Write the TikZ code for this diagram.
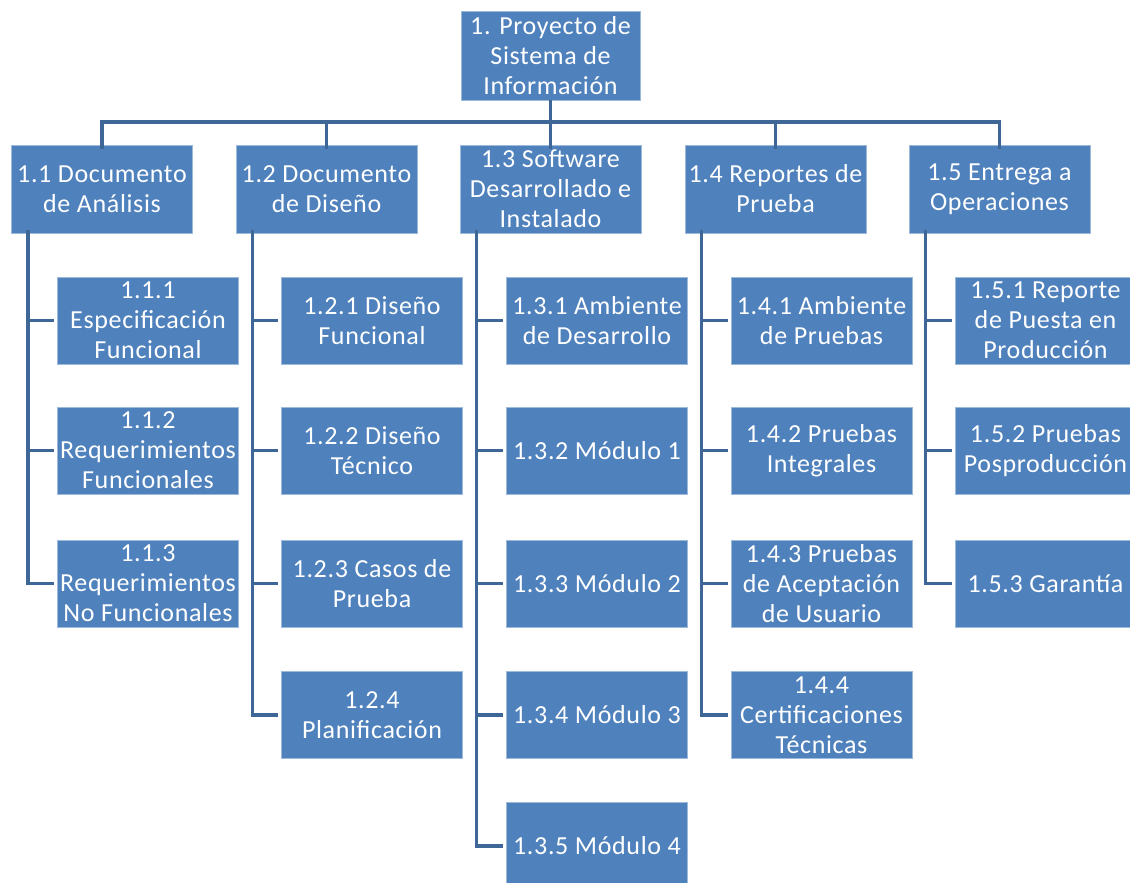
\documentclass[tikz,border=0pt]{standalone}
\usepackage{fontspec}
\setmainfont{Carlito}[LetterSpace=2.5]
\definecolor{boxblue}{HTML}{4F81BD}
\definecolor{linkblue}{HTML}{3E6797}
\begin{document}
\begin{tikzpicture}[x=1pt,y=-1pt,
  wbs/.style={fill=boxblue,draw=boxblue!55!white,line width=0.7pt,text=white,
    minimum width=181pt,minimum height=88pt,align=center,inner sep=0pt,
    font=\fontsize{26}{30}\selectfont},
  child/.style={wbs,minimum width=181pt,minimum height=87pt},
  link/.style={draw=linkblue,line width=3.6pt}]
\useasboundingbox (0,0) rectangle (1130,883);
\clip (0,0) rectangle (1130,883);
\fill[white] (0,0) rectangle (1130,883);
\coordinate (bus) at (0,122);
% root
\node[wbs,minimum width=179pt,minimum height=89pt] (root) at (550.5,55.5) {1. Proyecto de\\Sistema de\\Información};
% level 1
\node[wbs] (a) at (102,189) {1.1 Documento\\de Análisis};
\node[wbs] (b) at (326.5,189) {1.2 Documento\\de Diseño};
\node[wbs] (c) at (550.5,189) {1.3 Software\\Desarrollado e\\Instalado};
\node[wbs] (d) at (775.5,189) {1.4 Reportes de\\Prueba};
\node[wbs] (e) at (999.5,189) {1.5 Entrega a\\Operaciones};
% level 2
\node[child] (a1) at (148,320.5) {1.1.1\\Especificación\\Funcional};
\node[child] (a2) at (148,450.5) {1.1.2\\Requerimientos\\Funcionales};
\node[child] (a3) at (148,583.5) {1.1.3\\Requerimientos\\No Funcionales};
\node[child] (b1) at (372,320.5) {1.2.1 Diseño\\Funcional};
\node[child] (b2) at (372,450.5) {1.2.2 Diseño\\Técnico};
\node[child] (b3) at (372,583.5) {1.2.3 Casos de\\Prueba};
\node[child] (b4) at (372,715) {1.2.4\\Planificación};
\node[child] (c1) at (597,320.5) {1.3.1 Ambiente\\de Desarrollo};
\node[child] (c2) at (597,450.5) {1.3.2 Módulo 1};
\node[child] (c3) at (597,583.5) {1.3.3 Módulo 2};
\node[child] (c4) at (597,715) {1.3.4 Módulo 3};
\node[child] (c5) at (597,846) {1.3.5 Módulo 4};
\node[child] (d1) at (821.5,320.5) {1.4.1 Ambiente\\de Pruebas};
\node[child] (d2) at (821.5,450.5) {1.4.2 Pruebas\\Integrales};
\node[child] (d3) at (821.5,583.5) {1.4.3 Pruebas\\de Aceptación\\de Usuario};
\node[child] (d4) at (821.5,715) {1.4.4\\Certificaciones\\Técnicas};
\node[child] (e1) at (1045.5,320.5) {1.5.1 Reporte\\de Puesta en\\Producción};
\node[child] (e2) at (1045.5,450.5) {1.5.2 Pruebas\\Posproducción};
\node[child] (e3) at (1045.5,583.5) {1.5.3 Garantía};
% top connectors
\foreach \n in {a,b,c,d,e}
  \draw[link] (root.south) -- (root.south |- bus) -| ([yshift=-4pt]\n.north);
% child connectors
\foreach \p/\kids in {a/{a1,a2,a3},b/{b1,b2,b3,b4},c/{c1,c2,c3,c4,c5},d/{d1,d2,d3,d4},e/{e1,e2,e3}}{
  \coordinate (\p-v) at ([xshift=17pt,yshift=3pt]\p.south west);
  \foreach \k in \kids
    \draw[link] (\p-v) |- ([xshift=-3pt]\k.west);
}
\end{tikzpicture}
\end{document}
